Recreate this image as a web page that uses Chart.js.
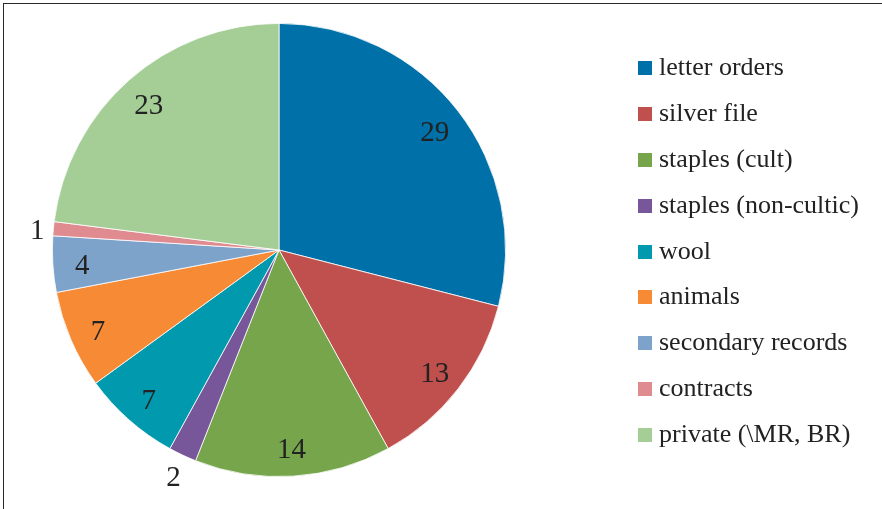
<!DOCTYPE html>
<html>
<head>
<meta charset="utf-8">
<script src="https://cdn.jsdelivr.net/npm/chart.js@4/dist/chart.umd.min.js"></script>
<style>
  html, body { margin: 0; padding: 0; background: #fff; }
  #wrap { position: relative; width: 882px; height: 509px; overflow: hidden; }
  #frame {
    position: absolute; left: 3px; top: 3px; right: -10px; bottom: -10px;
    border-left: 1.5px solid #2a2a2a; border-top: 1.5px solid #2a2a2a;
  }
  #pieChart { position: absolute; left: 0; top: 0; }
  #legend {
    position: absolute; left: 638px; top: 44px;
    font-family: "Liberation Serif", "Times New Roman", serif;
    font-size: 26px; color: #222;
  }
  .item { height: 45.9px; display: flex; align-items: center; white-space: nowrap; }
  .box { width: 14px; height: 14px; margin-right: 7px; flex: none; position: relative; top: 1px; }
</style>
</head>
<body>
<div id="wrap">
  <div id="frame"></div>
  <canvas id="pieChart" width="882" height="509"></canvas>
  <div id="legend"></div>
</div>
<script>
// ====================================================================
// PIE CHART - document types
// ====================================================================

const categories = ['letter orders', 'silver file', 'staples (cult)', 'staples (non-cultic)', 'wool',
  'animals', 'secondary records', 'contracts', 'private (\\MR, BR)'];
const counts = [29, 13, 14, 2, 7, 7, 4, 1, 23];
const sliceColors = ['#0070A8', '#C0504D', '#76A54B', '#78569A', '#0099AE',
  '#F68A35', '#7DA3CB', '#E08B90', '#A5CD96'];

const labelFont = '29px "Liberation Serif", "Times New Roman", serif';

// data labels: inside near the rim, outside for thin slices
const sliceLabels = {
  id: 'sliceLabels',
  afterDatasetsDraw(chart) {
    const { ctx } = chart;
    const meta = chart.getDatasetMeta(0);
    ctx.save();
    ctx.font = labelFont;
    ctx.fillStyle = '#222';
    ctx.textAlign = 'center';
    ctx.textBaseline = 'middle';
    meta.data.forEach((arc, i) => {
      const { x, y, startAngle, endAngle, outerRadius } = arc.getProps(['x', 'y', 'startAngle', 'endAngle', 'outerRadius'], true);
      const mid = (startAngle + endAngle) / 2;
      const cos = Math.cos(mid), sin = Math.sin(mid);
      const text = String(counts[i]);
      let r;
      if (endAngle - startAngle < 0.17) {
        const w = ctx.measureText(text).width;
        r = outerRadius + 8 + Math.abs(cos) * w / 2 + Math.abs(sin) * 11;
      } else {
        r = outerRadius * 0.87;
      }
      ctx.fillText(text, x + cos * r, y + sin * r + 4);
    });
    ctx.restore();
  }
};

const ctx = document.getElementById('pieChart').getContext('2d');
new Chart(ctx, {
  type: 'pie',
  data: {
    labels: categories,
    datasets: [{
      data: counts,
      backgroundColor: sliceColors,
      borderColor: '#ffffff',
      borderWidth: 0.8
    }]
  },
  options: {
    responsive: false,
    animation: false,
    layout: { padding: { left: 52, right: 376, top: 23, bottom: 32 } },
    plugins: {
      legend: { display: false },
      tooltip: { enabled: false }
    }
  },
  plugins: [sliceLabels]
});

// legend built from the same arrays
const legendEl = document.getElementById('legend');
categories.forEach((name, i) => {
  const row = document.createElement('div');
  row.className = 'item';
  const box = document.createElement('span');
  box.className = 'box';
  box.style.background = sliceColors[i];
  const label = document.createElement('span');
  label.textContent = name;
  row.appendChild(box);
  row.appendChild(label);
  legendEl.appendChild(row);
});
</script>
</body>
</html>
